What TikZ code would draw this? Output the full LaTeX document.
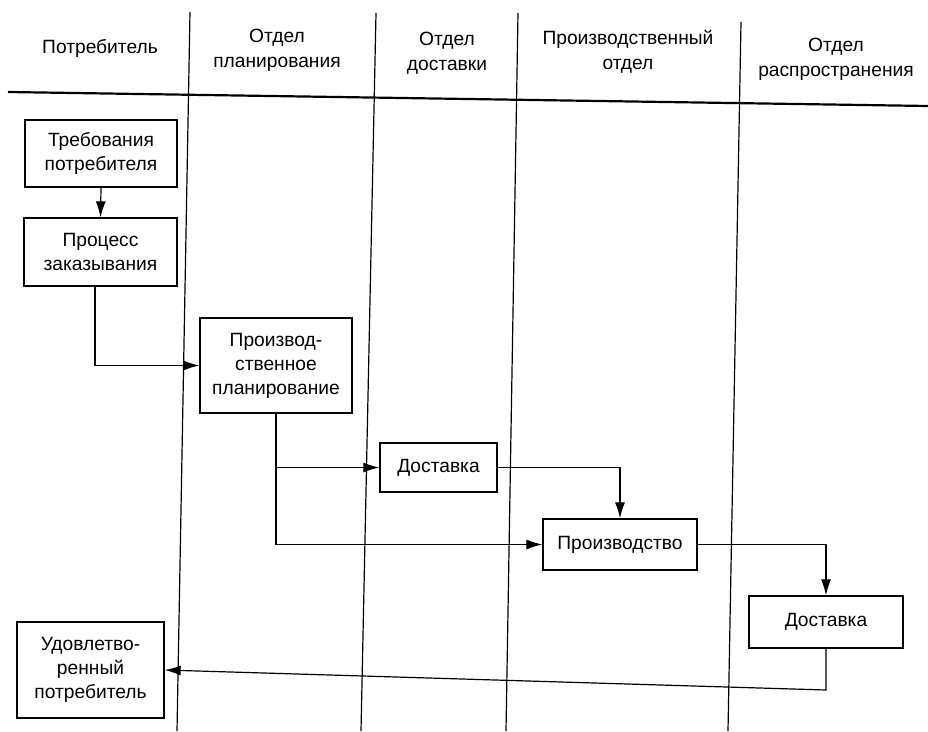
\documentclass[tikz,border=0pt]{standalone}
\usepackage{fontspec}
\setmainfont{Liberation Sans}
\usetikzlibrary{arrows.meta}
\begin{document}
\begin{tikzpicture}[x=1pt,y=-1pt,
  box/.style={draw, line width=1.3pt, align=center, inner sep=0pt, font=\fontsize{19.2}{24}\selectfont},
  head/.style={align=center, font=\fontsize{19.2}{25}\selectfont},
  arr/.style={line width=1.2pt, -{Latex[length=16pt,width=10pt]}},
  lane/.style={line width=1.2pt},
]
\useasboundingbox (0,0) rectangle (928,731);
\fill[white] (0,0) rectangle (928,731);

% swimlane separators
\coordinate (l1t) at (190,12);  \coordinate (l1b) at (177,731);
\coordinate (l2t) at (376,13);  \coordinate (l2b) at (361,731);
\coordinate (l3t) at (518,13);  \coordinate (l3b) at (506,731);
\coordinate (l4t) at (741,22);  \coordinate (l4b) at (728,731);
\coordinate (hl) at (8,92);     \coordinate (hr) at (928,106);
\draw[lane] (l1t) -- (l1b);
\draw[lane] (l2t) -- (l2b);
\draw[lane] (l3t) -- (l3b);
\draw[lane] (l4t) -- (l4b);
\draw[line width=2.2pt] (hl) -- (hr);

% headers
\node[head] (h1) at (100,48) {Потребитель};
\node[head] (h2) at (277,50) {Отдел\\планирования};
\node[head] (h3) at (447,53) {Отдел\\доставки};
\node[head] (h4) at (628,52) {Производственный\\отдел};
\node[head] (h5) at (836,59) {Отдел\\распространения};

% boxes
\node[box, minimum width=152pt, minimum height=67pt] (T1) at (101,153.5) {Требования\\потребителя};
\node[box, minimum width=153pt, minimum height=68pt] (T2) at (100.5,252) {Процесс\\заказывания};
\node[box, minimum width=152pt, minimum height=95pt] (P) at (276,365.5) {Производ-\\ственное\\планирование};
\node[box, minimum width=117pt, minimum height=49pt] (D1) at (438.5,467.5) {Доставка};
\node[box, minimum width=154pt, minimum height=51pt] (PR) at (620,544.5) {Производство};
\node[box, minimum width=154pt, minimum height=52pt] (D2) at (826,622) {Доставка};
\node[box, minimum width=147pt, minimum height=96pt] (U) at (90.5,670) {Удовлетво-\\ренный\\потребитель};

% connectors
\coordinate (c1) at (95,365.5);
\coordinate (c2) at (276,467.5);
\coordinate (c3) at (276,544.5);
\coordinate (c4) at (826,690);
\draw[arr] (T1.south) -- (T2.north);
\draw[arr] (T2.south -| c1) -- (c1) -- (P.west);
\draw[arr] (P.south) -- (c2) -- (D1.west);
\draw[line width=1.2pt] (c2) -- (c3);
\draw[arr] (c3) -- (PR.west);
\draw[arr] (D1.east) -| (PR.north);
\draw[arr] (PR.east) -| (D2.north);
\draw[arr] (D2.south) -- (c4) -- (U.east);
\end{tikzpicture}
\end{document}
